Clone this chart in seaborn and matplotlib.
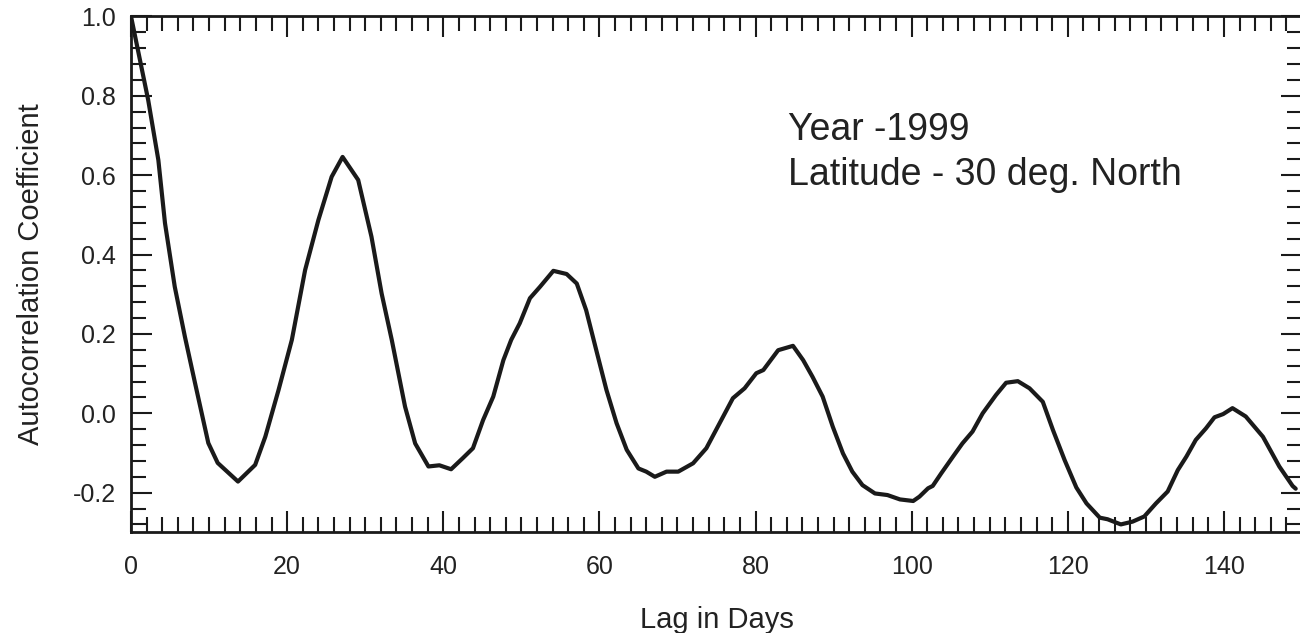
import numpy as np
import pandas as pd
import seaborn as sns
import matplotlib.pyplot as plt
from matplotlib.ticker import MultipleLocator

# valori (lag in zile, coeficient de autocorelatie)
lag_days = [0, 2.2, 3.5, 4.35, 5.6, 6.9, 8.2, 9.9, 11.1, 13.7, 15.9, 17.2, 18.9,
            20.6, 22.3, 24.0, 25.7, 27.1, 29.1, 30.8, 32.1, 33.4, 35.1, 36.4,
            38.1, 39.5, 41.0, 42.5, 43.8, 45.1, 46.4, 47.7, 48.7, 49.8, 51.1,
            52.4, 54.1, 55.8, 57.1, 58.3, 59.6, 60.9, 62.2, 63.5, 65.0, 66.0,
            67.1, 68.6, 70.1, 72.0, 73.7, 75.4, 77.1, 78.6, 80.1, 81.0, 82.9,
            84.8, 86.1, 87.3, 88.6, 89.9, 91.2, 92.4, 93.7, 95.3, 96.9, 98.5,
            100.2, 101.0, 102.1, 102.7, 103.8, 105.3, 106.5, 107.8, 109.1,
            110.8, 112.1, 113.6, 115.1, 116.8, 118.1, 119.6, 121.1, 122.4,
            124.1, 125.1, 126.8, 128.3, 129.8, 131.3, 132.8, 134.1, 135.2,
            136.4, 137.7, 138.8, 139.9, 141.1, 142.8, 145.0, 147.1, 148.8, 149.2]
autocorr = [1.0, 0.789, 0.638, 0.479, 0.319, 0.193, 0.076, -0.075, -0.125, -0.172,
            -0.13, -0.059, 0.059, 0.185, 0.361, 0.487, 0.596, 0.646, 0.588, 0.445,
            0.302, 0.185, 0.017, -0.076, -0.134, -0.131, -0.141, -0.113, -0.088,
            -0.017, 0.042, 0.134, 0.185, 0.227, 0.290, 0.319, 0.359, 0.351, 0.327,
            0.260, 0.159, 0.059, -0.025, -0.092, -0.139, -0.147, -0.160, -0.147,
            -0.147, -0.126, -0.088, -0.025, 0.038, 0.063, 0.101, 0.109, 0.159,
            0.170, 0.134, 0.092, 0.042, -0.034, -0.101, -0.147, -0.181, -0.202,
            -0.206, -0.217, -0.221, -0.210, -0.189, -0.183, -0.151, -0.109,
            -0.076, -0.046, 0.0, 0.046, 0.077, 0.081, 0.063, 0.029, -0.042,
            -0.118, -0.187, -0.227, -0.263, -0.267, -0.280, -0.273, -0.260,
            -0.227, -0.197, -0.143, -0.109, -0.067, -0.038, -0.010, -0.002,
            0.013, -0.008, -0.059, -0.134, -0.183, -0.19]

x_ticks = [0, 20, 40, 60, 80, 100, 120, 140]
y_ticks = [-0.2, 0.0, 0.2, 0.4, 0.6, 0.8, 1.0]
note_lines = ['Year -1999', 'Latitude - 30 deg. North']

df = pd.DataFrame({'lag': lag_days, 'r': autocorr})

sns.set_style('ticks')
plt.rcParams['font.family'] = ['Liberation Sans', 'DejaVu Sans']

fig = plt.figure(figsize=(13, 6.33), dpi=100)
ax = fig.add_axes([0.1008, 0.159, 0.9007, 0.815])

sns.lineplot(data=df, x='lag', y='r', color='#1a1a1a', linewidth=3.0,
             sort=False, ax=ax)

ax.set_xlim(0, 150)
ax.set_ylim(-0.3, 1.0)
ax.set_xticks(x_ticks)
ax.set_yticks(y_ticks)
ax.set_yticklabels([f'{v:.1f}' for v in y_ticks])
ax.xaxis.set_minor_locator(MultipleLocator(2))
ax.yaxis.set_minor_locator(MultipleLocator(0.04))

ax.tick_params(which='both', direction='in', top=True, right=True,
               color='#1a1a1a', width=1.5)
ax.tick_params(which='major', length=15, labelsize=18, labelcolor='#222222')
ax.tick_params(which='minor', length=11)
ax.tick_params(axis='x', which='major', pad=16)
ax.tick_params(axis='y', which='major', pad=11)
for sp in ax.spines.values():
    sp.set_linewidth(2)
    sp.set_color('#1a1a1a')

ax.set_xlabel('Lag in Days', fontsize=21, color='#222222', labelpad=20)
ax.set_ylabel('Autocorrelation Coefficient', fontsize=21, color='#222222', labelpad=20)

ax.text(84.2, 0.688, note_lines[0], fontsize=27, color='#222222', va='baseline')
ax.text(84.2, 0.575, note_lines[1], fontsize=27, color='#222222', va='baseline')

fig.savefig('out.png', dpi=100)
